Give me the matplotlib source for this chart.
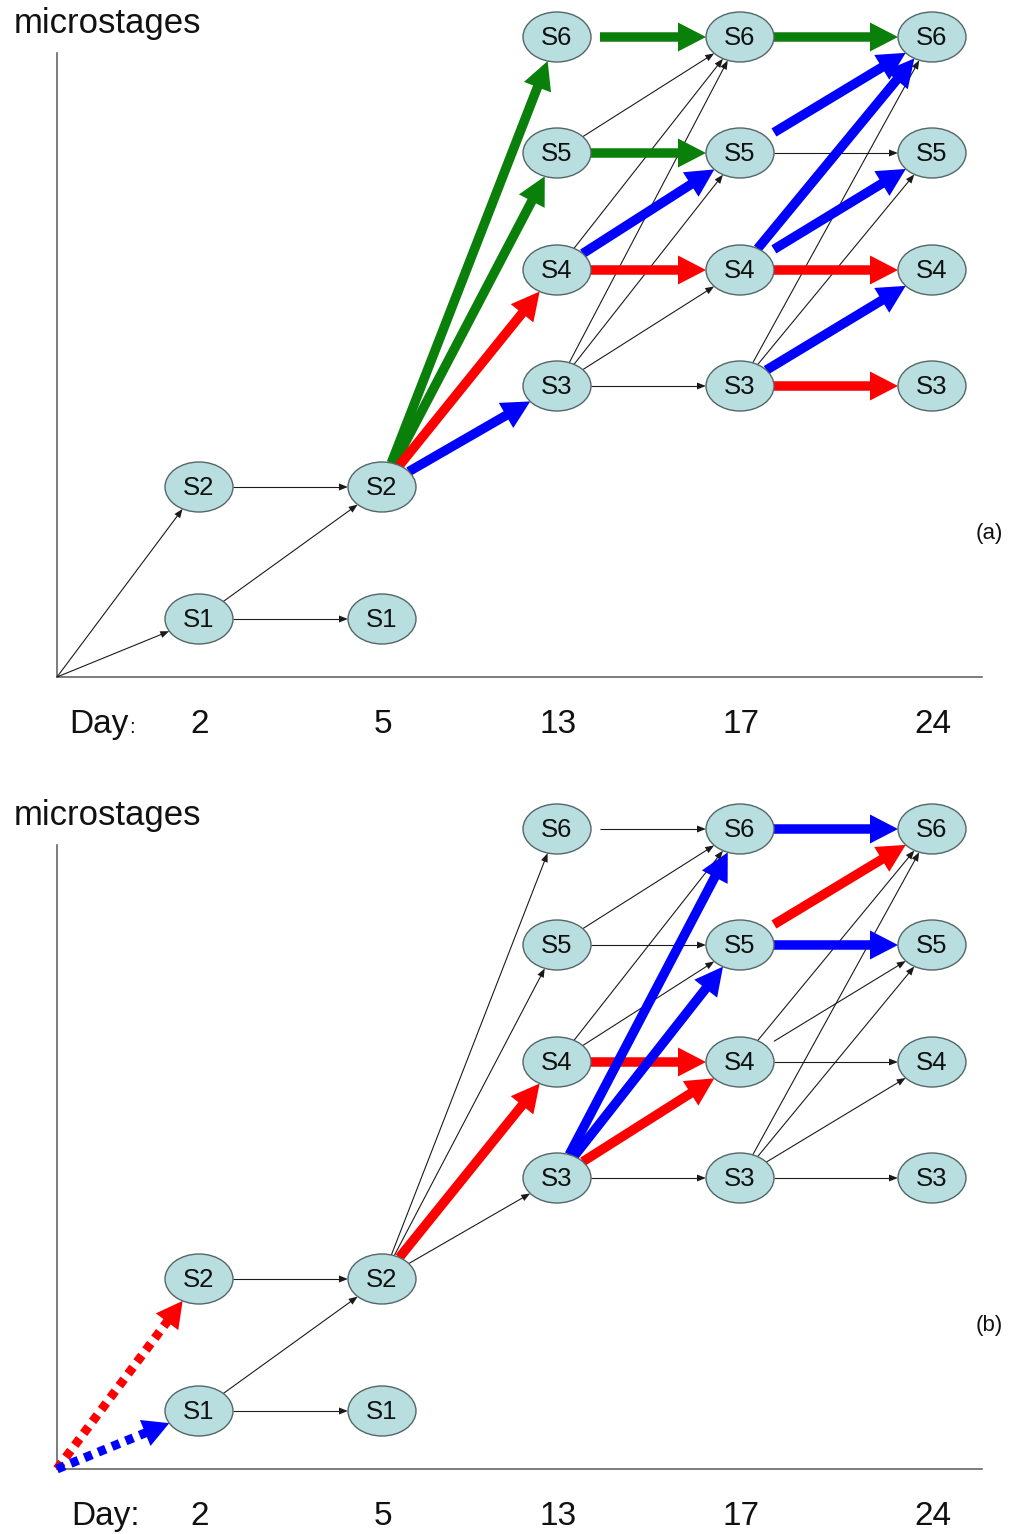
import numpy as np
import matplotlib.pyplot as plt
from matplotlib.patches import Ellipse, Polygon

plt.rcParams["font.family"] = ["Liberation Sans", "DejaVu Sans"]

# ---- data: days, microstages present on each day, transitions ----
DAYS = [2, 5, 13, 17, 24]
STAGES_BY_DAY = {2: [1, 2], 5: [1, 2], 13: [3, 4, 5, 6], 17: [3, 4, 5, 6], 24: [3, 4, 5, 6]}

# edges: (from_day, from_stage, to_day, to_stage); day 0 / stage 0 = origin
THIN_A = [(0, 0, 2, 2), (0, 0, 2, 1), (2, 2, 5, 2), (2, 1, 5, 2), (2, 1, 5, 1),
          (13, 5, 17, 6), (13, 4, 17, 6), (13, 3, 17, 6), (13, 3, 17, 5),
          (13, 3, 17, 4), (13, 3, 17, 3), (17, 5, 24, 5), (17, 3, 24, 6),
          (17, 3, 24, 5)]
GREEN_A = [(5, 2, 13, 6), (5, 2, 13, 5), (13, 6, 17, 6), (13, 5, 17, 5), (17, 6, 24, 6)]
RED_A = [(5, 2, 13, 4), (13, 4, 17, 4), (17, 4, 24, 4), (17, 3, 24, 3)]
BLUE_A = [(5, 2, 13, 3), (13, 4, 17, 5), (17, 5, 24, 6), (17, 4, 24, 6),
          (17, 4, 24, 5), (17, 3, 24, 4)]

THIN_B = [(2, 2, 5, 2), (2, 1, 5, 2), (2, 1, 5, 1),
          (5, 2, 13, 6), (5, 2, 13, 5), (5, 2, 13, 3),
          (13, 6, 17, 6), (13, 5, 17, 6), (13, 5, 17, 5), (13, 4, 17, 6),
          (13, 4, 17, 5), (13, 3, 17, 3),
          (17, 4, 24, 6), (17, 4, 24, 5), (17, 4, 24, 4),
          (17, 3, 24, 6), (17, 3, 24, 5), (17, 3, 24, 4), (17, 3, 24, 3)]
RED_B = [(5, 2, 13, 4), (13, 4, 17, 4), (13, 3, 17, 4), (17, 5, 24, 6)]
BLUE_B = [(13, 3, 17, 6), (13, 3, 17, 5), (17, 6, 24, 6), (17, 5, 24, 5)]
DOTTED_RED_B = [(0, 0, 2, 2)]
DOTTED_BLUE_B = [(0, 0, 2, 1)]

PANEL_LABELS = ["(a)", "(b)"]

# ---- layout (pixels) ----
W, H = 1021, 1534
COL_X = {0: 57, 2: 199, 5: 382, 13: 557, 17: 740, 24: 932}
ROW_Y = {0: 677, 1: 619, 2: 487, 3: 386, 4: 270, 5: 153, 6: 37}
PANEL_DY = [0, 792]
RX, RY = 34, 25
# arrows that leave a small gap after their source node
GAP_EDGES = {(13, 6, 17, 6), (17, 5, 24, 6), (17, 4, 24, 5)}

GREEN, RED, BLUE = "#0a800a", "#ff0000", "#0000ff"


def pos(day, stage, dy):
    return np.array([COL_X[day], ROW_Y[stage] + dy], dtype=float)


def rim(v):
    """fraction of v that lies inside a node ellipse"""
    return 1.0 / np.sqrt((v[0] / RX) ** 2 + (v[1] / RY) ** 2)


def edge_points(e, dy):
    d0, s0, d1, s1 = e
    p0, p1 = pos(d0, s0, dy), pos(d1, s1, dy)
    v = p1 - p0
    start = p0 if s0 == 0 else p0 + v * rim(v)
    if e in GAP_EDGES:
        start = start + 9 * v / np.hypot(*v)
    end = p1 - v * rim(v)
    return start, end


def arrow(ax, a, b, color, lw_px, head_len, head_half, ls="-", z=2):
    u = (b - a) / np.hypot(*(b - a))
    base = b - u * head_len
    ax.plot([a[0], base[0] + u[0]], [a[1], base[1] + u[1]], color=color,
            lw=lw_px * 0.72, ls=ls, solid_capstyle="butt", dash_capstyle="butt", zorder=z)
    n = np.array([-u[1], u[0]])
    ax.add_patch(Polygon([b, base + n * head_half, base - n * head_half],
                         closed=True, fc=color, ec="none", zorder=z))


fig = plt.figure(figsize=(W / 100, H / 100), dpi=100)
ax = fig.add_axes([0, 0, 1, 1])
ax.set_xlim(0, W)
ax.set_ylim(H, 0)
ax.axis("off")

panels = [
    dict(thin=THIN_A, thick=[(GREEN_A, GREEN), (RED_A, RED), (BLUE_A, BLUE)], dotted=[]),
    dict(thin=THIN_B, thick=[(RED_B, RED), (BLUE_B, BLUE)],
         dotted=[(DOTTED_RED_B, RED), (DOTTED_BLUE_B, BLUE)]),
]

for k, (p, dy) in enumerate(zip(panels, PANEL_DY)):
    # axes lines
    ox, oy = COL_X[0], ROW_Y[0] + dy
    ax.plot([ox, ox], [53 + dy, oy], color="#666666", lw=1.2, zorder=1)
    ax.plot([ox, 982], [oy, oy], color="#666666", lw=1.2, zorder=1)

    ax.text(14, 33 + dy, "microstages", fontsize=25, ha="left", va="baseline", color="#111111")
    if k == 0:
        ax.text(69, 733 + dy, "Day", fontsize=24, ha="left", va="baseline", color="#111111")
        ax.text(129, 733 + dy, ":", fontsize=15, ha="left", va="baseline", color="#111111")
    else:
        ax.text(71, 733 + dy, "Day:", fontsize=24, ha="left", va="baseline", color="#111111")
    for d in DAYS:
        ax.text(COL_X[d] + 1, 733 + dy, str(d), fontsize=24, ha="center", va="baseline", color="#111111")
    ax.text(989, 533 + dy, PANEL_LABELS[k], fontsize=16, ha="center", va="center", color="#111111")

    for e in p["thin"]:
        a, b = edge_points(e, dy)
        arrow(ax, a, b, "#1a1a1a", 1.1, 9, 3.5, z=2)
    for edges, c in p["thick"]:
        for e in edges:
            a, b = edge_points(e, dy)
            arrow(ax, a, b, c, 9.5, 28, 14.5, z=3)
    for edges, c in p["dotted"]:
        for e in edges:
            a, b = edge_points(e, dy)
            arrow(ax, a, b, c, 9, 26, 14, ls=(0, (0.9, 0.75)), z=3)

    # nodes
    for d in DAYS:
        for s in STAGES_BY_DAY[d]:
            c = pos(d, s, dy)
            ax.add_patch(Ellipse(c, 2 * RX, 2 * RY, fc="#b8dee0", ec="#556666", lw=1.0, zorder=5))
            ax.text(c[0], c[1] + 1, f"S{s}", fontsize=18.5, ha="center", va="center",
                    color="#111111", zorder=6)

fig.savefig("out.png", dpi=100)
